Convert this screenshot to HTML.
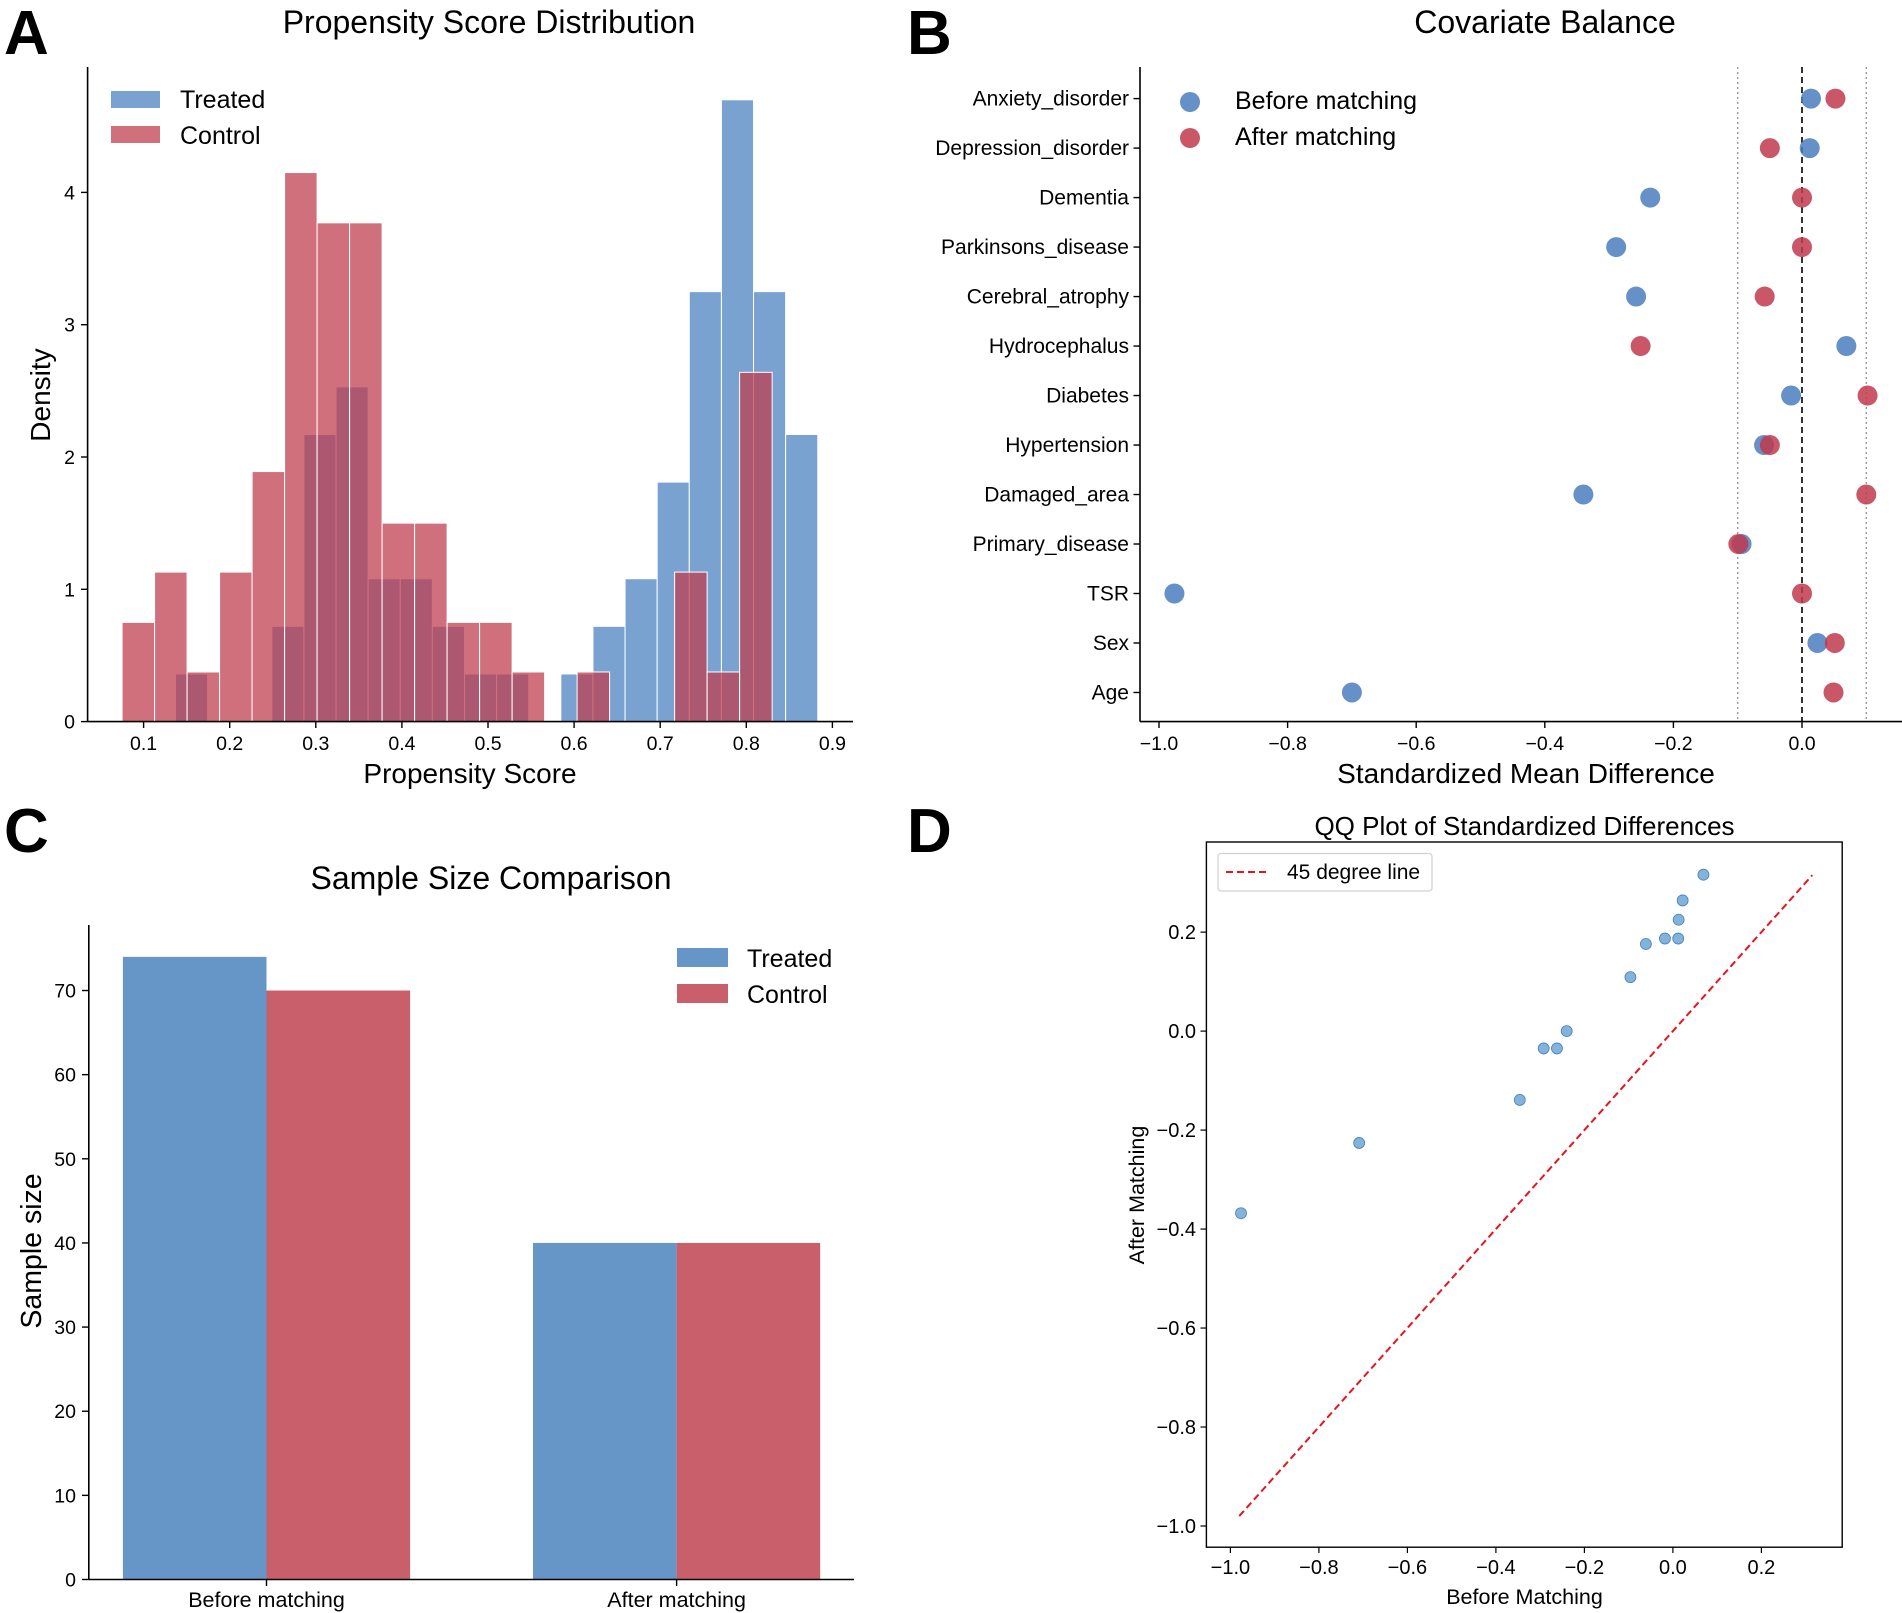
<!DOCTYPE html>
<html><head><meta charset="utf-8"><title>Propensity score matching</title>
<style>
html,body{margin:0;padding:0;background:#fff;}
svg{display:block;font-family:"Liberation Sans",Arial,sans-serif;}
</style></head>
<body>
<svg id="fig" width="1902" height="1613" viewBox="0 0 1902 1613" xmlns="http://www.w3.org/2000/svg"></svg>
<script>
// ---------- Panel A data ----------
const ctrlStart = 0.075, ctrlWidth = 0.03775;
const controlDensity = [0.75,1.13,0.375,1.13,1.89,4.15,3.77,3.77,1.5,1.5,0.75,0.75,0.375,0,0.375,0,0,1.13,0.375,2.64];
const trtStart = 0.137, trtWidth = 0.0373;
const treatedDensity = [0.36,0,0,0.72,2.17,2.53,1.08,1.08,0.72,0.36,0.36,0,0.36,0.72,1.08,1.81,3.25,4.70,3.25,2.17];
const aXTicks = [0.1,0.2,0.3,0.4,0.5,0.6,0.7,0.8,0.9];
const aYTicks = [0,1,2,3,4];
// ---------- Panel B data ----------
const covariates = ["Anxiety_disorder","Depression_disorder","Dementia","Parkinsons_disease","Cerebral_atrophy","Hydrocephalus","Diabetes","Hypertension","Damaged_area","Primary_disease","TSR","Sex","Age"];
const smdBefore = [0.014,0.012,-0.236,-0.289,-0.258,0.069,-0.017,-0.059,-0.34,-0.094,-0.976,0.024,-0.70];
const smdAfter = [0.052,-0.05,0.0,0.0,-0.058,-0.251,0.102,-0.05,0.1,-0.099,0.0,0.051,0.049];
const bXTicks = [-1.0,-0.8,-0.6,-0.4,-0.2,0.0];
// ---------- Panel C data ----------
const groups = ["Before matching","After matching"];
const treatedN = [74,40];
const controlN = [70,40];
const cYTicks = [0,10,20,30,40,50,60,70];
// ---------- Panel D data ----------
const qqBefore = [-0.976,-0.709,-0.346,-0.292,-0.262,-0.24,-0.096,-0.061,-0.018,0.012,0.013,0.022,0.069];
const qqAfter = [-0.368,-0.226,-0.139,-0.035,-0.035,0.0,0.109,0.176,0.187,0.187,0.225,0.264,0.316];
const lineRange = [-0.98,0.315];
const dXTicks = [-1.0,-0.8,-0.6,-0.4,-0.2,0.0,0.2];
const dYTicks = [0.2,0.0,-0.2,-0.4,-0.6,-0.8,-1.0];

const NS = "http://www.w3.org/2000/svg";
const svg = document.getElementById("fig");
function mk(tag, attrs, parent){
  const e = document.createElementNS(NS, tag);
  for (const k in attrs) e.setAttribute(k, attrs[k]);
  (parent||svg).appendChild(e);
  return e;
}
function fmt(v, d){ const s = v.toFixed(d); return s.replace("-", "\u2212"); }
function txt(x,y,s,size,anchor,parent,extra){
  const t = mk("text", Object.assign({x:x,y:y,"font-size":size,"text-anchor":anchor||"start",fill:"#000"}, extra||{}), parent);
  t.textContent = s; return t;
}

// ---------- Panel letters ----------
[["A",4,54],["B",907,54],["C",4,852],["D",907,852]].forEach(p=>{
  const t = txt(p[1],p[2],p[0],62,"start",svg,{"font-weight":"bold"});
  
  
});

// ================= Panel A =================
const gA = mk("g", {});


const xA = v => 143.6 + (v - 0.1) * 861;
const yA = v => 721.6 - v * 132.3;
treatedDensity.forEach((d,i)=>{
  if (d <= 0) return;
  const x0 = xA(trtStart + i*trtWidth), x1 = xA(trtStart + (i+1)*trtWidth);
  const r = mk("rect", {x:x0,y:yA(d),width:x1-x0,height:yA(0)-yA(d),fill:"rgb(76,129,191)","fill-opacity":0.74,stroke:"#fff","stroke-width":1}, gA);
  
  
});
controlDensity.forEach((d,i)=>{
  if (d <= 0) return;
  const x0 = xA(ctrlStart + i*ctrlWidth), x1 = xA(ctrlStart + (i+1)*ctrlWidth);
  const r = mk("rect", {x:x0,y:yA(d),width:x1-x0,height:yA(0)-yA(d),fill:"rgb(192,62,80)","fill-opacity":0.74,stroke:"#fff","stroke-width":1}, gA);
  
  
});
let ax = mk("line",{x1:87.6,y1:67,x2:87.6,y2:721.6,stroke:"#000","stroke-width":1.6},gA);


ax = mk("line",{x1:87.6,y1:721.6,x2:853,y2:721.6,stroke:"#000","stroke-width":1.6},gA);


aXTicks.forEach(v=>{
  mk("line",{x1:xA(v),y1:721.6,x2:xA(v),y2:728,stroke:"#000","stroke-width":1.4},gA);
  const t = txt(xA(v),750,v.toFixed(1),19.5,"middle",gA);
  
  
});
aYTicks.forEach(v=>{
  mk("line",{x1:81,y1:yA(v),x2:87.6,y2:yA(v),stroke:"#000","stroke-width":1.4},gA);
  const t = txt(75,yA(v)+7,String(v),19.5,"end",gA);
  
  
});
let t = txt(489,33,"Propensity Score Distribution",32,"middle",gA);


t = txt(470,783,"Propensity Score",28,"middle",gA);


t = txt(0,0,"Density",28,"middle",gA,{transform:"translate(50,395) rotate(-90)"});


let sw = mk("rect",{x:111,y:91,width:49,height:17,fill:"rgb(76,129,191)","fill-opacity":0.74},gA);


t = txt(180,108,"Treated",25,"start",gA);


sw = mk("rect",{x:111,y:126,width:49,height:17,fill:"rgb(192,62,80)","fill-opacity":0.74},gA);


t = txt(180,144,"Control",25,"start",gA);



// ================= Panel B =================
const gB = mk("g", {});


const xB = v => 1802 + v * 643;
const yB = i => 98.6 + i * 49.49;
[-0.1,0.1].forEach(v=>{
  const l = mk("line",{x1:xB(v),y1:67,x2:xB(v),y2:721.6,stroke:"#999","stroke-width":1.4,"stroke-dasharray":"2,3"},gB);
  
  
});
let zl = mk("line",{x1:xB(0),y1:67,x2:xB(0),y2:721.6,stroke:"#000","stroke-width":1.6,"stroke-dasharray":"6,4"},gB);


ax = mk("line",{x1:1140,y1:67,x2:1140,y2:721.6,stroke:"#000","stroke-width":1.6},gB);


ax = mk("line",{x1:1140,y1:721.6,x2:1902,y2:721.6,stroke:"#000","stroke-width":1.6},gB);


covariates.forEach((c,i)=>{
  mk("line",{x1:1133.5,y1:yB(i),x2:1140,y2:yB(i),stroke:"#000","stroke-width":1.4},gB);
  const tl = txt(1129,yB(i)+7,c,21,"end",gB);
  
  
});
bXTicks.forEach(v=>{
  mk("line",{x1:xB(v),y1:721.6,x2:xB(v),y2:728,stroke:"#000","stroke-width":1.4},gB);
  const tl = txt(xB(v),750,fmt(v,1),19.5,"middle",gB);
  
  
});
smdBefore.forEach((v,i)=>{
  const c = mk("circle",{cx:xB(v),cy:yB(i),r:10,fill:"rgb(74,125,190)","fill-opacity":0.85},gB);
  
  
});
smdAfter.forEach((v,i)=>{
  const c = mk("circle",{cx:xB(v),cy:yB(i),r:10,fill:"rgb(192,58,76)","fill-opacity":0.85},gB);
  
  
});
t = txt(1545,33,"Covariate Balance",32,"middle",gB);


t = txt(1526,783,"Standardized Mean Difference",28,"middle",gB);


let lm = mk("circle",{cx:1190,cy:102,r:10,fill:"rgb(74,125,190)","fill-opacity":0.85},gB);


t = txt(1235,109,"Before matching",25,"start",gB);


lm = mk("circle",{cx:1190,cy:138,r:10,fill:"rgb(192,58,76)","fill-opacity":0.85},gB);


t = txt(1235,145,"After matching",25,"start",gB);



// ================= Panel C =================
const gC = mk("g", {});


const yC = v => 1579.5 - v * 8.414;
const groupCenter = [266.5, 676.6];
const barW = 143.6;
groups.forEach((g,i)=>{
  const r1 = mk("rect",{x:groupCenter[i]-barW,y:yC(treatedN[i]),width:barW,height:yC(0)-yC(treatedN[i]),fill:"rgb(102,149,199)"},gC);
  
  
  const r2 = mk("rect",{x:groupCenter[i],y:yC(controlN[i]),width:barW,height:yC(0)-yC(controlN[i]),fill:"rgb(200,95,107)"},gC);
  
  
  mk("line",{x1:groupCenter[i],y1:1579.5,x2:groupCenter[i],y2:1586,stroke:"#000","stroke-width":1.4},gC);
  const tl = txt(groupCenter[i],1607,g,21.5,"middle",gC);
  
  
});
ax = mk("line",{x1:88.8,y1:925,x2:88.8,y2:1579.5,stroke:"#000","stroke-width":1.6},gC);


ax = mk("line",{x1:88.8,y1:1579.5,x2:854,y2:1579.5,stroke:"#000","stroke-width":1.6},gC);


cYTicks.forEach(v=>{
  mk("line",{x1:82,y1:yC(v),x2:88.8,y2:yC(v),stroke:"#000","stroke-width":1.4},gC);
  const tl = txt(76,yC(v)+7,String(v),19.5,"end",gC);
  
  
});
t = txt(491,889,"Sample Size Comparison",32,"middle",gC);


t = txt(0,0,"Sample size",28.5,"middle",gC,{transform:"translate(41,1251) rotate(-90)"});


sw = mk("rect",{x:677,y:948,width:51,height:19,fill:"rgb(102,149,199)"},gC);


t = txt(747,967,"Treated",25,"start",gC);


sw = mk("rect",{x:677,y:984,width:51,height:19,fill:"rgb(200,95,107)"},gC);


t = txt(747,1003,"Control",25,"start",gC);



// ================= Panel D =================
const gD = mk("g", {});


const xD = v => 1230.4 + (v + 1) * 442.5;
const yD = v => 1526 - (v + 1) * 494.9;
const fr = mk("rect",{x:1206.4,y:842,width:635.8,height:705.2,fill:"none",stroke:"#000","stroke-width":1.4},gD);


dXTicks.forEach(v=>{
  mk("line",{x1:xD(v),y1:1547.2,x2:xD(v),y2:1553,stroke:"#000","stroke-width":1.2},gD);
  const tl = txt(xD(v),1574,fmt(v,1),20,"middle",gD);
  
  
});
dYTicks.forEach(v=>{
  mk("line",{x1:1200.5,y1:yD(v),x2:1206.4,y2:yD(v),stroke:"#000","stroke-width":1.2},gD);
  const tl = txt(1196,yD(v)+7,fmt(v,1),20,"end",gD);
  
  
});
const ref = mk("line",{x1:xD(lineRange[0]),y1:yD(lineRange[0]),x2:xD(lineRange[1]),y2:yD(lineRange[1]),stroke:"#e8141c","stroke-width":2,"stroke-dasharray":"7,4"},gD);


qqBefore.forEach((v,i)=>{
  const c = mk("circle",{cx:xD(v),cy:yD(qqAfter[i]),r:5.5,fill:"rgb(90,152,205)","fill-opacity":0.75,stroke:"rgb(70,130,190)","stroke-width":0.8},gD);
  
  
});
const lb = mk("rect",{x:1218,y:853.5,width:214,height:37.5,rx:3,fill:"#fff",stroke:"#d0d0d0","stroke-width":1.2},gD);


const ll = mk("line",{x1:1226,y1:872,x2:1270,y2:872,stroke:"#e8141c","stroke-width":2,"stroke-dasharray":"7,4"},gD);


t = txt(1287,879,"45 degree line",21,"start",gD);


t = txt(1524.5,835,"QQ Plot of Standardized Differences",26,"middle",gD);


t = txt(1524.5,1604,"Before Matching",21.5,"middle",gD);


t = txt(0,0,"After Matching",21.5,"middle",gD,{transform:"translate(1144,1195) rotate(-90)"});


</script>
</body></html>
